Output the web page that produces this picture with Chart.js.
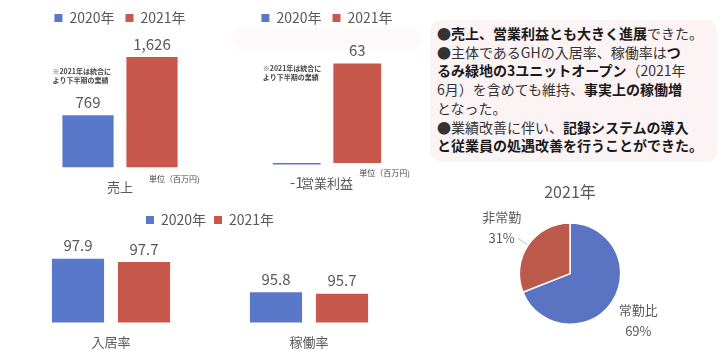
<!DOCTYPE html>
<html lang="ja">
<head>
<meta charset="utf-8">
<script src="https://cdn.jsdelivr.net/npm/chart.js@4.4.1/dist/chart.umd.min.js"></script>
<style>
  html, body { margin: 0; padding: 0; background: #ffffff; }
  body { width: 721px; height: 350px; position: relative; overflow: hidden;
         font-family: 'Noto Sans CJK JP', 'Noto Sans', sans-serif; }
  canvas { position: absolute; }
  .tint { position: absolute; background: #fcf3f5; border-radius: 10px; }
  #summary { position: absolute; left: 437px; top: 24px; font-size: 14px; line-height: 18.7px;
             color: #333333; white-space: nowrap; }
  #summary b { font-weight: 700; color: #1a1a1a; }
</style>
</head>
<body>
<div class="tint" style="left:430px;top:20px;width:287px;height:142px;"></div>
<div class="tint" style="left:232px;top:27px;width:190px;height:24px;background:#fef9fa;filter:blur(3px);"></div>

<canvas id="salesChart" width="200" height="207" style="left:20px;top:0px;"></canvas>
<canvas id="profitChart" width="194" height="201" style="left:230px;top:0px;"></canvas>
<canvas id="rateChart" width="396" height="157" style="left:12px;top:205px;"></canvas>
<canvas id="staffChart" width="230" height="175" style="left:460px;top:175px;"></canvas>

<div id="summary">
  ●<b>売上、営業利益とも大きく進展</b>できた。<br>
  ●主体であるGHの入居率、稼働率は<b>つ</b><br>
  <b>るみ緑地の3ユニットオープン</b>（2021年<br>
  6月）を含めても維持、<b>事実上の稼働増</b><br>
  となった。<br>
  ●業績改善に伴い、<b>記録システムの導入</b><br>
  <b>と従業員の処遇改善を行うことができた。</b>
</div>

<script>
// ---- data ----
const years = ['2020年', '2021年'];

const salesCategory = ['売上'];
const sales2020 = [769];
const sales2021 = [1626];

const profitCategory = ['営業利益'];
const profit2020 = [-1];
const profit2021 = [63];

const rateCategories = ['入居率', '稼働率'];
const rate2020 = [97.9, 95.8];
const rate2021 = [97.7, 95.7];

const staffLabels = ['常勤比', '非常勤'];
const staffShare = [69, 31];

const mergeNote = ['※2021年は統合に', 'より下半期の業績'];

// ---- shared styling ----
const FONT = "'Noto Sans CJK JP', 'Noto Sans', sans-serif";
const BLUE = '#5a78c9';
const RED = '#c9584c';
const TEXT = '#595959';
Chart.defaults.font.family = FONT;
Chart.defaults.color = TEXT;

// numbers above (or below, for negatives) each bar
const valueLabels = {
  id: 'valueLabels',
  afterDatasetsDraw(chart, args, opts) {
    const ctx = chart.ctx;
    const d = opts.decimals || 0;
    ctx.save();
    ctx.font = `${opts.size || 15}px ${FONT}`;
    ctx.fillStyle = TEXT;
    ctx.textAlign = 'center';
    ctx.textBaseline = 'middle';
    chart.data.datasets.forEach((ds, i) => {
      chart.getDatasetMeta(i).data.forEach((bar, j) => {
        const v = ds.data[j];
        const y = v >= 0 ? bar.y - 13 : bar.y + 18;
        const txt = v.toLocaleString('en-US', { minimumFractionDigits: d, maximumFractionDigits: d });
        ctx.fillText(txt, bar.x, y);
      });
    });
    ctx.restore();
  }
};

// small print: unit under each group, optional footnote beside the bars
const captions = {
  id: 'captions',
  afterDatasetsDraw(chart, args, opts) {
    const ctx = chart.ctx;
    ctx.save();
    ctx.fillStyle = '#444';
    ctx.textBaseline = 'middle';
    ctx.textAlign = 'left';
    const first = chart.getDatasetMeta(0).data;
    const last = chart.getDatasetMeta(chart.data.datasets.length - 1).data;
    ctx.font = `${opts.unitSize || 8}px ${FONT}`;
    last.forEach(bar => {
      ctx.fillText(opts.unit, bar.x + (opts.unitDx || 0), bar.base + (opts.unitDy || 11));
    });
    if (opts.note) {
      ctx.font = `600 7px ${FONT}`;
      const b = first[0];
      const x = b.x - b.width / 2 - 10;
      opts.note.forEach((line, k) => ctx.fillText(line, x, opts.noteY + k * 9));
    }
    ctx.restore();
  }
};

function barOptions(extra) {
  return {
    responsive: false,
    animation: false,
    layout: { padding: 0 },
    plugins: {
      legend: {
        position: 'top',
        labels: {
          boxWidth: 8, boxHeight: 8, padding: extra.legendPad,
          font: { size: 14 }, color: TEXT
        }
      },
      tooltip: { enabled: false },
      valueLabels: { decimals: extra.decimals },
      captions: extra.captions
    },
    scales: {
      x: {
        grid: { display: false, drawTicks: false },
        border: { display: false },
        ticks: { font: { size: 13 }, color: TEXT, padding: extra.tickPad }
      },
      y: { display: false, min: extra.min, max: extra.max }
    }
  };
}

function twoYears(a, b, barPct, catPct) {
  return [
    { label: years[0], data: a, backgroundColor: BLUE, barPercentage: barPct, categoryPercentage: catPct },
    { label: years[1], data: b, backgroundColor: RED, barPercentage: barPct, categoryPercentage: catPct }
  ];
}

// 売上
new Chart(document.getElementById('salesChart'), {
  type: 'bar',
  data: { labels: salesCategory, datasets: twoYears(sales2020, sales2021, 0.8, 0.64) },
  options: barOptions({
    legendPad: 11, tickPad: 12, decimals: 0, min: 0, max: 1950,
    captions: { unit: '単位（百万円)', unitDx: -3, unitDy: 12, note: mergeNote, noteY: 71 }
  }),
  plugins: [valueLabels, captions]
});

// 営業利益
new Chart(document.getElementById('profitChart'), {
  type: 'bar',
  data: { labels: profitCategory, datasets: twoYears(profit2020, profit2021, 0.79, 0.624) },
  options: barOptions({
    legendPad: 11, tickPad: 10, decimals: 0, min: -1.5, max: 81,
    captions: { unit: '単位（百万円)', unitDx: 2, unitDy: 10, note: mergeNote, noteY: 68 }
  }),
  plugins: [valueLabels, captions]
});

// 入居率・稼働率
new Chart(document.getElementById('rateChart'), {
  type: 'bar',
  data: { labels: rateCategories, datasets: twoYears(rate2020, rate2021, 0.79, 0.667) },
  options: barOptions({
    legendPad: 8, tickPad: 12, decimals: 1, min: 93.9, max: 99.27,
    captions: { unit: '単位（%）', unitDx: -4, unitDy: 10, unitSize: 7.5 }
  }),
  plugins: [valueLabels, captions]
});

// 常勤・非常勤の割合
const sliceLabels = {
  id: 'sliceLabels',
  afterDatasetsDraw(chart, args, opts) {
    const ctx = chart.ctx;
    const meta = chart.getDatasetMeta(0);
    ctx.save();
    ctx.font = `13px ${FONT}`;
    ctx.fillStyle = TEXT;
    ctx.textAlign = 'center';
    ctx.textBaseline = 'middle';
    meta.data.forEach((arc, i) => {
      const p = arc.getProps(['x', 'y', 'startAngle', 'endAngle', 'outerRadius'], true);
      const mid = (p.startAngle + p.endAngle) / 2;
      const c = Math.cos(mid), s = Math.sin(mid);
      const d = p.outerRadius + opts.offset;
      const lx = p.x + c * d, ly = p.y + s * d;
      ctx.fillText(chart.data.labels[i], lx, ly - 10);
      ctx.fillText(chart.data.datasets[0].data[i] + '%', lx, ly + 11);
      if (opts.leader && opts.leader[i]) {
        ctx.strokeStyle = '#bdbdbd';
        ctx.lineWidth = 1;
        ctx.beginPath();
        ctx.moveTo(p.x + c * (p.outerRadius + 1), p.y + s * (p.outerRadius + 1));
        ctx.lineTo(p.x + c * (p.outerRadius + 12), p.y + s * (p.outerRadius + 12));
        ctx.stroke();
      }
    });
    ctx.restore();
  }
};

new Chart(document.getElementById('staffChart'), {
  type: 'pie',
  data: {
    labels: staffLabels,
    datasets: [{
      data: staffShare,
      backgroundColor: ['#5a73c3', '#bb5a4a'],
      borderColor: '#ffffff',
      borderWidth: 1.5
    }]
  },
  options: {
    responsive: false,
    animation: false,
    layout: { padding: { left: 58, right: 68, top: 3, bottom: 25 } },
    plugins: {
      legend: { display: false },
      tooltip: { enabled: false },
      title: {
        display: true, text: '2021年', color: TEXT,
        font: { size: 16, weight: 'normal' }, padding: { top: 4, bottom: 21 }
      },
      sliceLabels: { offset: 32, leader: [false, true] }
    }
  },
  plugins: [sliceLabels]
});
</script>
</body>
</html>
